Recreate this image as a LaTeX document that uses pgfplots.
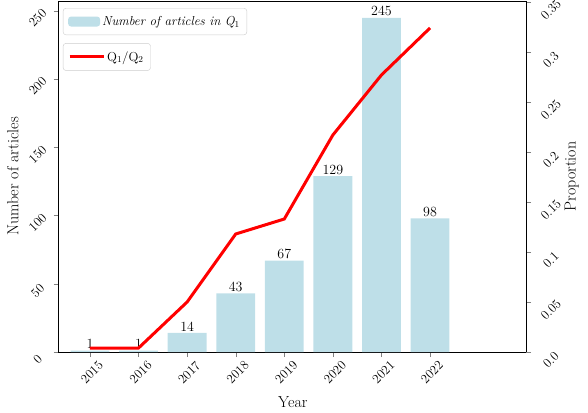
\documentclass[border=0pt]{standalone}
\usepackage{pgfplots}
\pgfplotsset{compat=1.18}
\definecolor{barblue}{RGB}{190,223,232}
\begin{document}
\begin{tikzpicture}[x=1pt,y=1pt]
\useasboundingbox (0,0) rectangle (588,412);
\pgfplotsset{
  myaxis/.style={
    at={(58.7pt,60pt)}, anchor=south west,
    scale only axis, width=467.3pt, height=351pt,
    xmin=-0.644, xmax=8.976,
    tick align=outside, major tick length=5pt,
    /pgf/number format/assume math mode=true,
    tick label style={font=\fontsize{13}{13}\selectfont},
    label style={font=\fontsize{16}{16}\selectfont},
    legend style={draw=black!20, rounded corners=3pt, font=\fontsize{13}{13}\selectfont, inner xsep=5pt, inner ysep=6pt},
    legend cell align=left,
  }
}
\begin{axis}[myaxis,
  ymin=0, ymax=257.3, ytick={0,50,...,250},
  xtick={0,...,7}, xticklabels={2015,2016,2017,2018,2019,2020,2021,2022},
  xtick pos=bottom, ytick pos=left,
  xticklabel style={anchor=center, xshift=2pt, yshift=-15.5pt, rotate=45},
  yticklabel style={anchor=center, xshift=-16pt, yshift=-7pt, rotate=45},
  xlabel={Year}, ylabel={Number of articles},
  xlabel style={at={(axis description cs:0.501,-0.142)}, anchor=center},
  ylabel style={at={(axis description cs:-0.098,0.5)}, anchor=center},
  legend style={at={(0.009,0.98)}, anchor=north west},
  legend image code/.code={\fill[barblue] (0pt,-5pt) rectangle (32pt,5pt);},
  nodes near coords, nodes near coords style={font=\fontsize{14}{14}\selectfont, inner sep=1.5pt, anchor=south},
]
\addplot[ybar, bar width=0.8, fill=barblue, draw=none] coordinates {(0,1) (1,1) (2,14) (3,43) (4,67) (5,129) (6,245) (7,98)};
\addlegendentry{\textit{Number of articles in Q$_1$}}
\end{axis}
\begin{axis}[myaxis,
  ymin=0, ymax=0.351, ytick={0,0.05,...,0.35},
  yticklabels={0.0,0.05,0.1,0.15,0.2,0.25,0.3,0.35},
  hide x axis, axis y line*=right,
  yticklabel style={anchor=center, xshift=20pt, yshift=-8pt, rotate=45},
  ylabel={Proportion},
  ylabel style={at={(axis description cs:1.098,0.5)}, anchor=center},
  legend style={at={(0.009,0.88)}, anchor=north west},
  legend image code/.code={\draw[red, line width=3pt] (0pt,0pt) -- (34pt,0pt);},
]
\addplot[red, line width=3pt, mark=none] coordinates {(0,0.004) (1,0.004) (2,0.050) (3,0.118) (4,0.133) (5,0.217) (6,0.277) (7,0.324)};
\addlegendentry{Q$_1$/Q$_2$}
\end{axis}
\end{tikzpicture}
\end{document}
